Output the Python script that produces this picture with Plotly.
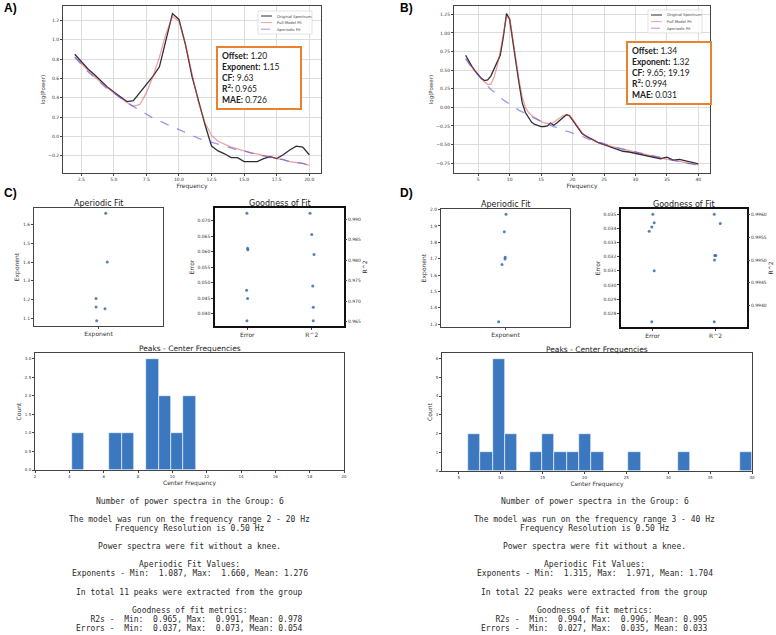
import numpy as np
import plotly.graph_objects as go

W, H = 776, 635

# ---------------- panel A: spectrum fit, 2-20 Hz ----------------
freq_a = [2.0, 2.5, 3.0, 3.5, 4.0, 4.5, 5.0, 5.5, 6.0, 6.5, 7.0, 7.5, 8.0, 8.5,
          9.0, 9.5, 10.0, 10.5, 11.0, 11.5, 12.0, 12.5, 13.0, 13.5, 14.0, 14.5,
          15.0, 15.5, 16.0, 16.5, 17.0, 17.5, 18.0, 18.5, 19.0, 19.5, 20.0]
orig_a = [0.85, 0.77, 0.70, 0.64, 0.57, 0.51, 0.46, 0.41, 0.36, 0.37, 0.45, 0.54,
          0.62, 0.72, 0.99, 1.27, 1.21, 0.95, 0.62, 0.37, 0.12, -0.10, -0.15,
          -0.18, -0.22, -0.22, -0.26, -0.26, -0.26, -0.23, -0.21, -0.23, -0.19,
          -0.14, -0.10, -0.11, -0.19]
fit_a = [0.82, 0.75, 0.68, 0.62, 0.56, 0.50, 0.45, 0.40, 0.35, 0.31, 0.33, 0.45,
         0.62, 0.82, 1.06, 1.24, 1.19, 0.95, 0.64, 0.35, 0.14, 0.01, -0.05, -0.08,
         -0.11, -0.13, -0.15, -0.17, -0.18, -0.20, -0.21, -0.23, -0.24, -0.26,
         -0.27, -0.28, -0.30]
aper_a = [0.82, 0.74, 0.67, 0.61, 0.55, 0.49, 0.45, 0.40, 0.35, 0.31, 0.27, 0.23,
          0.19, 0.16, 0.13, 0.10, 0.07, 0.04, 0.01, -0.02, -0.04, -0.06, -0.08,
          -0.10, -0.12, -0.14, -0.15, -0.17, -0.19, -0.20, -0.22, -0.23, -0.24,
          -0.26, -0.27, -0.28, -0.30]
params_a = {"Offset": "1.20", "Exponent": "1.15", "CF": "9.63", "R2": "0.965", "MAE": "0.726"}

# ---------------- panel B: spectrum fit, 3-40 Hz ----------------
freq_b = [3, 3.5, 4, 4.5, 5, 5.5, 6, 6.5, 7, 7.5, 8, 8.5, 9, 9.5, 10, 10.5, 11,
          11.5, 12, 12.5, 13, 13.5, 14, 14.5, 15, 15.5, 16, 16.5, 17, 17.5, 18,
          18.5, 19, 19.5, 20, 20.5, 21, 21.5, 22, 23, 24, 25, 26, 27, 28, 29, 30,
          31, 32, 33, 34, 35, 36, 37, 38, 39, 40]
orig_b = [0.70, 0.62, 0.55, 0.49, 0.44, 0.39, 0.36, 0.37, 0.42, 0.51, 0.60, 0.70,
          0.95, 1.26, 1.18, 0.92, 0.60, 0.32, 0.06, -0.07, -0.14, -0.20, -0.23,
          -0.25, -0.26, -0.26, -0.25, -0.21, -0.24, -0.21, -0.17, -0.13, -0.10,
          -0.11, -0.17, -0.24, -0.30, -0.35, -0.38, -0.43, -0.47, -0.50, -0.53,
          -0.55, -0.59, -0.60, -0.62, -0.64, -0.65, -0.68, -0.69, -0.67, -0.71,
          -0.70, -0.72, -0.74, -0.76]
fit_b = [0.65, 0.59, 0.53, 0.48, 0.43, 0.38, 0.34, 0.31, 0.31, 0.40, 0.55, 0.75,
         1.00, 1.22, 1.20, 0.95, 0.64, 0.36, 0.14, 0.00, -0.07, -0.11, -0.14,
         -0.17, -0.19, -0.21, -0.22, -0.22, -0.20, -0.17, -0.14, -0.11, -0.10,
         -0.11, -0.16, -0.22, -0.29, -0.34, -0.38, -0.43, -0.47, -0.50, -0.52,
         -0.55, -0.57, -0.59, -0.61, -0.63, -0.65, -0.66, -0.68, -0.70, -0.71,
         -0.73, -0.74, -0.76, -0.77]
aper_b = [0.66, 0.59, 0.53, 0.48, 0.43, 0.38, 0.33, 0.29, 0.24, 0.21, 0.17, 0.13,
          0.10, 0.07, 0.04, 0.01, -0.01, -0.04, -0.06, -0.09, -0.11, -0.13, -0.15,
          -0.17, -0.19, -0.21, -0.22, -0.24, -0.26, -0.27, -0.29, -0.30, -0.32,
          -0.33, -0.35, -0.36, -0.38, -0.39, -0.41, -0.44, -0.46, -0.49, -0.51,
          -0.54, -0.56, -0.58, -0.60, -0.62, -0.64, -0.66, -0.68, -0.70, -0.71,
          -0.73, -0.75, -0.76, -0.78]
params_b = {"Offset": "1.34", "Exponent": "1.32", "CF": "9.65; 19.19", "R2": "0.994", "MAE": "0.031"}

# ---------------- group results C (2-20 Hz) ----------------
exp_c = [1.660, 1.400, 1.205, 1.160, 1.150, 1.087]
err_c = [0.0724, 0.0611, 0.0606, 0.0475, 0.0449, 0.0377]
r2_c = [0.9915, 0.9863, 0.9814, 0.9737, 0.9685, 0.9652]
cf_c = [4.16, 6.7, 7.4, 8.7, 8.9, 9.1, 9.4, 9.63, 10.3, 10.9, 11.36]
nbins_c = 10

# ---------------- group results D (3-40 Hz) ----------------
exp_d = [1.971, 1.864, 1.708, 1.698, 1.665, 1.315]
err_d = [0.0350, 0.0344, 0.0341, 0.0338, 0.0310, 0.0274]
r2_d = [0.9960, 0.9958, 0.9951, 0.9951, 0.9950, 0.99365]
cf_d = [6.08, 6.9, 8.2, 9.3, 9.5, 9.65, 9.8, 10.0, 10.3, 10.8, 11.5, 14.2, 15.3,
        16.0, 16.9, 19.19, 19.6, 20.2, 21.5, 26.0, 31.8, 40.0]
nbins_d = 23

# strip-plot jitter (horizontal scatter of the points around their category)
jit_exp_c = [0.056, 0.068, -0.019, -0.019, 0.05, -0.014]
jit_err_c = [-0.005, 0.005, 0.01, -0.01, 0.005, -0.005]
jit_r2_c = [-0.027, 0.0, 0.035, 0.015, 0.023, 0.023]
jit_exp_d = [0.004, -0.009, -0.002, -0.004, -0.027, -0.053]
jit_err_d = [0.005, 0.027, -0.011, -0.052, 0.027, -0.011]
jit_r2_d = [-0.02, 0.075, 0.005, -0.011, -0.016, -0.02]

text_c = ["Number of power spectra in the Group: 6", "",
          "The model was run on the frequency range 2 - 20 Hz",
          "Frequency Resolution is 0.50 Hz", "",
          "Power spectra were fit without a knee.", "",
          "Aperiodic Fit Values:",
          "Exponents - Min:  1.087, Max:  1.660, Mean: 1.276", "",
          "In total 11 peaks were extracted from the group", "",
          "Goodness of fit metrics:",
          "   R2s -  Min:  0.965, Max:  0.991, Mean: 0.978",
          "Errors -  Min:  0.037, Max:  0.073, Mean: 0.054"]
text_d = ["Number of power spectra in the Group: 6", "",
          "The model was run on the frequency range 3 - 40 Hz",
          "Frequency Resolution is 0.50 Hz", "",
          "Power spectra were fit without a knee.", "",
          "Aperiodic Fit Values:",
          "Exponents - Min:  1.315, Max:  1.971, Mean: 1.704", "",
          "In total 22 peaks were extracted from the group", "",
          "Goodness of fit metrics:",
          "   R2s -  Min:  0.994, Max:  0.996, Mean: 0.995",
          "Errors -  Min:  0.027, Max:  0.035, Mean: 0.033"]

# ---------------- styling ----------------
C_ORIG = "rgb(45,45,55)"
C_FIT = "rgba(225,70,70,0.5)"
C_APER = "rgba(70,70,225,0.55)"
C_PT = "rgba(40,100,170,0.8)"
C_HIST = "#3b78c0"
C_BOX = "#e8822e"
TICK_FONT = "DejaVu Sans"


def px(x0, x1):
    return [x0 / W, x1 / W]


def py(y_top, y_bot):
    return [1 - y_bot / H, 1 - y_top / H]


def pad(vals, frac=0.05):
    lo, hi = min(vals), max(vals)
    d = (hi - lo) * frac
    return [lo - d, hi + d]


def title(text, size=6):
    return dict(text=text, font=dict(family=TICK_FONT, size=size, color="#333"), standoff=2)


def ax(domain, anchor, size=4.5, lc="#444", lw=1, **kw):
    d = dict(domain=domain, anchor=anchor, showline=True, mirror=True,
             linecolor=lc, linewidth=lw, ticks="outside", ticklen=2,
             tickwidth=0.7, tickcolor="#444", zeroline=False, showgrid=False,
             automargin=False,
             tickfont=dict(family=TICK_FONT, size=size, color="#333"))
    d.update(kw)
    return d


def twin(over, anchor, rng, dtick, fmt):
    return dict(overlaying=over, side="right", anchor=anchor, range=rng, dtick=dtick,
                tickformat=fmt, showgrid=False, zeroline=False, automargin=False,
                ticks="outside", ticklen=2, tickwidth=0.7, tickcolor="#444",
                tickfont=dict(family=TICK_FONT, size=4.5, color="#333"), title=title("R^2"))


fig = go.Figure()

# spectra
for fr, o, f, a, xa, ya in [(freq_a, orig_a, fit_a, aper_a, "x", "y"),
                            (freq_b, orig_b, fit_b, aper_b, "x2", "y2")]:
    fig.add_trace(go.Scatter(x=fr, y=o, mode="lines", line=dict(color=C_ORIG, width=1.3),
                             xaxis=xa, yaxis=ya, showlegend=False))
    fig.add_trace(go.Scatter(x=fr, y=f, mode="lines", line=dict(color=C_FIT, width=1.3),
                             xaxis=xa, yaxis=ya, showlegend=False))
    fig.add_trace(go.Scatter(x=fr, y=a, mode="lines", line=dict(color=C_APER, width=1.3, dash="dash"),
                             xaxis=xa, yaxis=ya, showlegend=False))

mk = dict(color=C_PT, size=3)
# C strip plots
fig.add_trace(go.Scatter(x=jit_exp_c, y=exp_c, mode="markers", marker=mk, xaxis="x3", yaxis="y3", showlegend=False))
fig.add_trace(go.Scatter(x=[0 + j for j in jit_err_c], y=err_c, mode="markers", marker=mk, xaxis="x4", yaxis="y4", showlegend=False))
fig.add_trace(go.Scatter(x=[1 + j for j in jit_r2_c], y=r2_c, mode="markers", marker=mk, xaxis="x4", yaxis="y5", showlegend=False))
# D strip plots
fig.add_trace(go.Scatter(x=jit_exp_d, y=exp_d, mode="markers", marker=mk, xaxis="x5", yaxis="y6", showlegend=False))
fig.add_trace(go.Scatter(x=[0 + j for j in jit_err_d], y=err_d, mode="markers", marker=mk, xaxis="x6", yaxis="y7", showlegend=False))
fig.add_trace(go.Scatter(x=[1 + j for j in jit_r2_d], y=r2_d, mode="markers", marker=mk, xaxis="x6", yaxis="y8", showlegend=False))

# histograms
for cf, nb, xa, ya in [(cf_c, nbins_c, "x7", "y9"), (cf_d, nbins_d, "x8", "y10")]:
    counts, edges = np.histogram(cf, bins=nb)
    fig.add_trace(go.Bar(x=(edges[:-1] + edges[1:]) / 2, y=counts, width=np.diff(edges),
                         marker=dict(color=C_HIST, line=dict(color="white", width=0.6)),
                         xaxis=xa, yaxis=ya, showlegend=False))

grid = dict(showgrid=True, gridcolor="#dcdcdc", gridwidth=0.7)
lay = dict(
    xaxis=ax(px(63, 321), "y", range=pad(freq_a), tickvals=[2.5, 5, 7.5, 10, 12.5, 15, 17.5, 20],
             tickformat=".1f", title=title("Frequency"), **grid),
    yaxis=ax(py(6, 173), "x", range=pad(orig_a + fit_a + aper_a), dtick=0.2, tickformat=".1f",
             title=title("log(Power)", 5.5), **grid),
    xaxis2=ax(px(454, 710), "y2", range=pad(freq_b), dtick=5, title=title("Frequency"), **grid),
    yaxis2=ax(py(6, 173), "x2", range=pad(orig_b + fit_b + aper_b), dtick=0.25, tickformat=".2f",
              title=title("log(Power)", 5.5), **grid),
    # C aperiodic
    xaxis3=ax(px(34, 163), "y3", size=6, range=[-0.5, 0.5], tickvals=[0], ticktext=["Exponent"]),
    yaxis3=ax(py(208, 326), "x3", range=pad(exp_c), dtick=0.1, tickformat=".1f", title=title("Exponent")),
    # C goodness
    xaxis4=ax(px(215, 344), "y4", size=6, lc="#111", lw=1.5, range=[-0.5, 1.5], tickvals=[0, 1], ticktext=["Error", "R^2"]),
    yaxis4=ax(py(208, 326), "x4", lc="#111", lw=1.5, range=pad(err_c), dtick=0.005, tickformat=".3f", title=title("Error")),
    yaxis5=twin("y4", "x4", pad(r2_c), 0.005, ".3f"),
    # D aperiodic
    xaxis5=ax(px(441, 570), "y6", size=6, range=[-0.5, 0.5], tickvals=[0], ticktext=["Exponent"]),
    yaxis6=ax(py(209, 327), "x5", range=pad(exp_d), dtick=0.1, tickformat=".1f", title=title("Exponent")),
    # D goodness
    xaxis6=ax(px(621, 747), "y7", size=6, lc="#111", lw=1.5, range=[-0.5, 1.5], tickvals=[0, 1], ticktext=["Error", "R^2"]),
    yaxis7=ax(py(209, 327), "x6", lc="#111", lw=1.5, range=pad(err_d), dtick=0.001, tickformat=".3f", title=title("Error")),
    yaxis8=twin("y7", "x6", pad(r2_d), 0.0005, ".4f"),
    # histograms
    xaxis7=ax(px(35, 344), "y9", size=4, range=[2, 20], dtick=2, title=title("Center Frequency")),
    yaxis9=ax(py(353, 470), "x7", size=4, range=[0, 3.15], dtick=0.5, tickformat=".1f", title=title("Count")),
    xaxis8=ax(px(442, 752), "y10", size=4, range=[3, 40], dtick=5, title=title("Center Frequency")),
    yaxis10=ax(py(353, 471), "x8", size=4, range=[0, 6.3], dtick=1, title=title("Count")),
)

ann = []
shapes = []


def note(x, y, text, size, family=TICK_FONT, xanchor="center", yanchor="middle", color="#222", **kw):
    ann.append(dict(x=x / W, y=1 - y / H, xref="paper", yref="paper", text=text, showarrow=False,
                    xanchor=xanchor, yanchor=yanchor, font=dict(family=family, size=size, color=color), **kw))


# panel labels
for lbl, x, y in [("A)", 2, 8), ("B)", 398, 8), ("C)", 2, 193), ("D)", 398, 193)]:
    note(x, y, "<b>%s</b>" % lbl, 12, family="Liberation Sans", xanchor="left", color="#000")

# sub-plot titles
for t, x, y, s in [("Aperiodic Fit", 98.5, 203, 8), ("Goodness of Fit", 279.5, 203, 8),
                   ("Aperiodic Fit", 505.5, 204, 8), ("Goodness of Fit", 684, 204, 8),
                   ("Peaks - Center Frequencies", 189.5, 348, 7.5),
                   ("Peaks - Center Frequencies", 597, 349, 7.5)]:
    note(x, y, t, s, color="#222")

# parameter boxes
for p, x0, y0 in [(params_a, 216, 46), (params_b, 626, 41)]:
    txt = ("<b>Offset:</b> %s<br><b>Exponent:</b> %s<br><b>CF:</b> %s<br>"
           "<b>R<sup>2</sup>:</b> %s<br><b>MAE:</b> %s") % (p["Offset"], p["Exponent"], p["CF"], p["R2"], p["MAE"])
    ann.append(dict(x=x0 / W, y=1 - y0 / H, xref="paper", yref="paper", text=txt, showarrow=False,
                    xanchor="left", yanchor="top", align="left", width=74, height=52,
                    bordercolor=C_BOX, borderwidth=2, borderpad=4, bgcolor="white",
                    font=dict(family="Lato", size=8.5, color="#222")))

# hand-made compact legends (matplotlib style)
for lx, ly in [(258, 11), (648, 10)]:
    shapes.append(dict(type="rect", xref="paper", yref="paper", x0=lx / W, x1=(lx + 54) / W,
                       y0=1 - (ly + 23) / H, y1=1 - ly / H, line=dict(color="#d0d0d0", width=0.6),
                       fillcolor="rgba(255,255,255,0.85)"))
    for i, (name, col, dash) in enumerate([("Original Spectrum", C_ORIG, "solid"),
                                           ("Full Model Fit", C_FIT, "solid"),
                                           ("Aperiodic Fit", C_APER, "dash")]):
        yy = ly + 5 + i * 6.6
        shapes.append(dict(type="line", xref="paper", yref="paper", x0=(lx + 3) / W, x1=(lx + 14) / W,
                           y0=1 - yy / H, y1=1 - yy / H, line=dict(color=col, width=1, dash=dash)))
        note(lx + 17, yy, name, 3.8, xanchor="left", color="#444")

# text summaries
for lines, cx in [(text_c, 189.5), (text_d, 594.5)]:
    for i, line in enumerate(lines):
        if line:
            note(cx, 501 + 9.1 * i, line.replace(" ", "\u00a0"), 8, family="DejaVu Sans Mono", color="#2a2a2a")

fig.update_layout(
    width=W, height=H, autosize=False,
    margin=dict(l=0, r=0, t=0, b=0, autoexpand=False),
    paper_bgcolor="white", plot_bgcolor="white",
    annotations=ann, shapes=shapes,
    bargap=0,
    **lay,
)

# the page's default 8px body margin would push the figure off its frame
fig.write_html("out.html", config={"displayModeBar": False},
               post_script="document.body.style.margin='0';document.body.style.overflow='hidden';")
